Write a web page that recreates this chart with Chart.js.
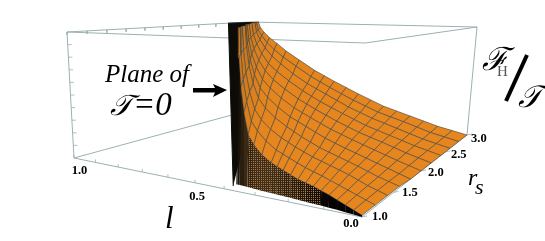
<!DOCTYPE html>
<html>
<head>
<meta charset="utf-8">
<title>F_H / T surface</title>
<script src="https://cdn.jsdelivr.net/npm/chart.js@4/dist/chart.umd.min.js"></script>
<style>
  html, body { margin: 0; padding: 0; background: #fff; }
  canvas { display: block; }
</style>
</head>
<body>
<canvas id="surfaceChart" width="545" height="241"></canvas>
<script>
// --- DATA ---
const lTicks = [1.0, 0.5, 0.0];
const rsTicks = [1.0, 1.5, 2.0, 2.5, 3.0];
const lMinorTicks = [0.1, 0.2, 0.3, 0.4, 0.6, 0.7, 0.8, 0.9];
const heightTicks = [0.1, 0.2, 0.3, 0.4, 0.5, 0.6, 0.7, 0.8, 0.9];

// surface rows: one per rs value, the l range ends where T=0
const rsRows = [1.0, 1.2, 1.4, 1.6, 1.8, 2.0, 2.2, 2.4, 2.6, 2.8, 3.0];
const lLimit = [0.36, 0.41, 0.46, 0.51, 0.57, 0.63, 0.69, 0.75, 0.81, 0.88, 0.95];
const lFractions = [0, 0.06, 0.12, 0.18, 0.24, 0.30, 0.36, 0.42, 0.48, 0.54, 0.6, 0.65, 0.7, 0.78, 0.85, 0.9, 0.94, 0.97, 0.99, 1];
const heights = [
  [0.01, 0.03, 0.05, 0.07, 0.09, 0.107, 0.125, 0.137, 0.15, 0.17, 0.19, 0.207, 0.225, 0.265, 0.32, 0.38, 0.52, 0.68, 0.87, 1.07],
  [0.01, 0.03, 0.05, 0.07, 0.09, 0.11, 0.13, 0.147, 0.165, 0.187, 0.21, 0.23, 0.25, 0.30, 0.36, 0.42, 0.55, 0.70, 0.88, 1.06],
  [0.01, 0.03, 0.05, 0.075, 0.10, 0.12, 0.14, 0.16, 0.18, 0.205, 0.23, 0.255, 0.28, 0.33, 0.39, 0.46, 0.58, 0.72, 0.885, 1.06],
  [0.01, 0.03, 0.05, 0.075, 0.10, 0.122, 0.145, 0.167, 0.19, 0.22, 0.25, 0.28, 0.31, 0.365, 0.43, 0.50, 0.61, 0.74, 0.89, 1.05],
  [0, 0.025, 0.05, 0.075, 0.10, 0.125, 0.15, 0.177, 0.205, 0.24, 0.275, 0.305, 0.335, 0.40, 0.47, 0.54, 0.645, 0.765, 0.90, 1.05],
  [0, 0.025, 0.05, 0.077, 0.105, 0.132, 0.16, 0.19, 0.22, 0.257, 0.295, 0.327, 0.36, 0.43, 0.505, 0.575, 0.675, 0.785, 0.905, 1.04],
  [0, 0.025, 0.05, 0.08, 0.11, 0.137, 0.165, 0.20, 0.235, 0.275, 0.315, 0.352, 0.39, 0.465, 0.54, 0.615, 0.705, 0.805, 0.91, 1.03],
  [0, 0.025, 0.05, 0.08, 0.11, 0.14, 0.17, 0.21, 0.25, 0.292, 0.335, 0.377, 0.42, 0.50, 0.58, 0.65, 0.74, 0.83, 0.92, 1.03],
  [0, 0.025, 0.05, 0.082, 0.115, 0.147, 0.18, 0.22, 0.26, 0.31, 0.36, 0.402, 0.445, 0.53, 0.62, 0.69, 0.77, 0.85, 0.925, 1.02],
  [0, 0.025, 0.05, 0.085, 0.12, 0.152, 0.185, 0.23, 0.275, 0.327, 0.38, 0.427, 0.475, 0.57, 0.655, 0.73, 0.80, 0.87, 0.93, 1.01],
  [0, 0.025, 0.05, 0.085, 0.12, 0.155, 0.19, 0.24, 0.29, 0.345, 0.40, 0.45, 0.50, 0.60, 0.69, 0.77, 0.83, 0.89, 0.94, 1]
];

// foot of the curtain under the rs=1 edge, one per lFractions entry
const curtainBase = [0, 0.004, 0.008, 0.012, 0.015, 0.018, 0.02, 0.022, 0.025, 0.028, 0.03, 0.031, 0.033, 0.036, 0.04, 0.042, 0.045, 0.045, 0.045, 0.045];

// the T=0 plane seen nearly edge-on, its outline as l, rs, height
const planeL = [0.37, 1.0, 0.95, 0.36, 0.34];
const planeRs = [1.0, 2.75, 3.0, 1.0, 1.0];
const planeZ = [0.03, 1, 1, 0.9, 0.3];

// --- 3D BOX ON THE CANVAS ---
// corners of the box in canvas units: l=0 rs=1, l=1 rs=1, l=1 rs=3, l=0 rs=3
const floorCorners = [[362, 217], [74, 158], [250, 110], [467, 135]];
const roofCorners = [[365, 43], [67, 32], [249, 22], [477, 27]];
const rsBend = 0.27; // eases the spacing along rs, the tick labels sit this way

function makeHomography(c) {
  const [x0, y0] = c[0], [x1, y1] = c[1], [x2, y2] = c[2], [x3, y3] = c[3];
  const dx1 = x1 - x2, dx2 = x3 - x2, sx = x0 - x1 + x2 - x3;
  const dy1 = y1 - y2, dy2 = y3 - y2, sy = y0 - y1 + y2 - y3;
  const det = dx1 * dy2 - dx2 * dy1;
  const g = (sx * dy2 - dx2 * sy) / det;
  const h = (dx1 * sy - sx * dy1) / det;
  const a = x1 - x0 + g * x1, b = x3 - x0 + h * x3;
  const d = y1 - y0 + g * y1, e = y3 - y0 + h * y3;
  return (u, v) => {
    const w = g * u + h * v + 1;
    return [(a * u + b * v + x0) / w, (d * u + e * v + y0) / w];
  };
}
const floorMap = makeHomography(floorCorners);
const roofMap = makeHomography(roofCorners);

function project(l, rs, z) {
  const t = (rs - 1) / 2;
  const v = t / (1 + rsBend * (1 - t));
  const p = floorMap(l, v), q = roofMap(l, v);
  return { x: p[0] + (q[0] - p[0]) * z, y: p[1] + (q[1] - p[1]) * z };
}

// --- PATTERNS FOR THE DENSE MESH ---
function hatch(dark, alpha) {
  const c = document.createElement('canvas');
  c.width = 2; c.height = 2;
  const g = c.getContext('2d');
  g.fillStyle = '#a8763a';
  g.fillRect(0, 0, 2, 2);
  g.fillStyle = 'rgba(' + dark + ',' + alpha + ')';
  g.fillRect(0, 0, 1, 2);
  g.fillRect(1, 0, 1, 1);
  return g.createPattern(c, 'repeat');
}

// --- DATASETS (painted back to front) ---
const painted = [];
function addShape(points, fillColor, lineColor, lineWidth) {
  painted.push({
    data: points, showLine: true, fill: 'shape', tension: 0, pointRadius: 0,
    backgroundColor: fillColor, borderColor: lineColor, borderWidth: lineWidth
  });
}
function addLines(points, lineColor, lineWidth) {
  painted.push({
    data: points, showLine: true, fill: false, tension: 0, pointRadius: 0,
    borderColor: lineColor, borderWidth: lineWidth, spanGaps: false
  });
}

const boxColor = '#9db0b2';
const gap = { x: NaN, y: NaN };

// box edges behind the surface
addLines([project(1, 1, 0), project(1, 3, 0), project(1, 3, 1), project(0, 3, 1)], boxColor, 1);
addLines([project(1, 1, 1), project(1, 3, 1)], boxColor, 1);
addLines([project(0, 3, 0), project(0, 3, 1)], boxColor, 1);
addLines([project(1, 1, 0), project(1, 1, 1), project(0, 1, 1), project(0, 3, 1)], boxColor, 1);
addLines([project(1, 1, 0), project(0, 1, 0), project(0, 3, 0)], boxColor, 1);

// small ticks along the box
const tickPts = [];
lMinorTicks.concat(lTicks).forEach(l => {
  const p = project(l, 1, 0);
  tickPts.push(p, { x: p.x, y: p.y - 3 }, gap);
});
rsRows.forEach(rs => {
  const q = project(1, rs, 1);
  tickPts.push(q, { x: q.x, y: q.y + 3 }, gap);
});
rsTicks.forEach(rs => {
  const p = project(0, rs, 0);
  tickPts.push(p, { x: p.x + 5, y: p.y - 1 }, gap);
});
heightTicks.forEach(z => {
  const p = project(1, 1, z);
  tickPts.push(p, { x: p.x + 4, y: p.y }, gap);
});
addLines(tickPts, boxColor, 0.8);

// T=0 plane
addShape(planeL.map((l, i) => project(l, planeRs[i], planeZ[i])), '#0d0b08', '#0d0b08', 1);

// surface cells, far rows first and from the spike down to l=0
const corner = (i, j) => project(lLimit[i] * lFractions[j], rsRows[i], heights[i][j]);
for (let r = rsRows.length - 2; r >= 0; r--) {
  for (let c = lFractions.length - 2; c >= 0; c--) {
    const slope = Math.min(1, (heights[r][c + 1] - heights[r][c]) / (lFractions[c + 1] - lFractions[c]) / 6);
    const k = 1 - 0.1 * slope;
    const fillColor = 'rgb(' + Math.round(233 * k) + ',' + Math.round(135 * k) + ',' + Math.round(30 * k) + ')';
    addShape([corner(r, c), corner(r, c + 1), corner(r + 1, c + 1), corner(r + 1, c), corner(r, c)],
      fillColor, 'rgba(72,74,66,0.8)', 0.8);
  }
}

// curtain below the rs=1 edge, black near l=0 and thinner towards the spike
const curtainFill = ['#050403', '#050403', '#050403', '#050403', '#0a0705',
  hatch('8,6,4', 0.95), hatch('10,8,6', 0.92), hatch('15,12,8', 0.88), hatch('20,16,12', 0.85),
  hatch('25,20,15', 0.85), hatch('30,25,20', 0.82), hatch('30,25,20', 0.8), hatch('35,28,20', 0.8),
  hatch('35,28,20', 0.8), hatch('30,24,16', 0.85), '#3a2a14', '#2a1e0e', '#1a120a', '#120c06'];
lFractions.slice(0, -1).forEach((f, c) => {
  const rowL = lLimit[0];
  addShape([
    project(rowL * f, 1, curtainBase[c]), corner(0, c), corner(0, c + 1),
    project(rowL * lFractions[c + 1], 1, curtainBase[c + 1]), project(rowL * f, 1, curtainBase[c])
  ], curtainFill[c], 'rgba(0,0,0,0)', 0);
});

// chart.js paints the first dataset last, so flip the list
painted.reverse();

// --- TEXT, ARROW AND THE BIG SLASH ---
const lLabelShift = [[5.5, 16], [2, 17], [-11, 10]];

const textPlugin = {
  id: 'labels3d',
  afterDraw(chart) {
    const { ctx, scales } = chart;
    const px = v => scales.x.getPixelForValue(v), py = v => scales.y.getPixelForValue(v);
    const put = (s, x, y, font, color, align) => {
      ctx.font = font;
      ctx.fillStyle = color || '#000';
      ctx.textAlign = align || 'left';
      ctx.textBaseline = 'alphabetic';
      ctx.fillText(s, px(x), py(y));
    };
    ctx.save();

    // tick labels hang off the axis points
    const tickFont = 'bold 12.5px "Liberation Serif"';
    lTicks.forEach((l, i) => {
      const p = project(l, 1, 0);
      put(l.toFixed(1), p.x + lLabelShift[i][0], p.y + lLabelShift[i][1], tickFont, '#000', 'center');
    });
    rsTicks.forEach((rs, i) => {
      const p = project(0, rs, 0);
      put(rs.toFixed(1), p.x + 10 - 1.5 * i, p.y + 3 + i, tickFont);
    });

    put('Plane of', 105, 82, 'italic 25px "Liberation Serif"');
    put('\u{1D4AF}', 110, 115, 'italic 29px "DejaVu Serif", "Liberation Serif"');
    put('=0', 133, 115, 'italic 33px "Liberation Serif"');
    put('l', 165, 228, 'italic 31px "Liberation Serif"');
    put('r', 468, 185, 'italic 24px "Liberation Serif"');
    put('s', 475, 194, 'italic 22px "Liberation Serif"');
    put('\u2131', 482, 70, 'italic 32px "DejaVu Serif", "Liberation Serif"');
    put('H', 497, 76, '15px "Liberation Serif"', '#555');
    put('\u{1D4AF}', 518, 107, 'italic 31px "DejaVu Serif", "Liberation Serif"');

    // slash between F_H and T
    ctx.strokeStyle = '#000';
    ctx.lineWidth = 4;
    ctx.beginPath();
    ctx.moveTo(px(527), py(55));
    ctx.lineTo(px(506), py(101));
    ctx.stroke();

    // arrow pointing at the plane
    ctx.fillStyle = '#000';
    ctx.beginPath();
    ctx.moveTo(px(193), py(88));
    ctx.lineTo(px(215), py(88));
    ctx.lineTo(px(213), py(84));
    ctx.lineTo(px(227), py(90));
    ctx.lineTo(px(213), py(97));
    ctx.lineTo(px(215), py(92.5));
    ctx.lineTo(px(193), py(92.5));
    ctx.closePath();
    ctx.fill();
    ctx.restore();
  }
};

// --- CHART ---
document.addEventListener('DOMContentLoaded', function () {
  new Chart(document.getElementById('surfaceChart').getContext('2d'), {
    type: 'scatter',
    data: { datasets: painted },
    options: {
      responsive: false,
      animation: false,
      layout: { padding: 0 },
      scales: {
        x: { type: 'linear', min: 0, max: 545, display: false },
        y: { type: 'linear', min: 0, max: 241, reverse: true, display: false }
      },
      plugins: { legend: { display: false }, tooltip: { enabled: false } }
    },
    plugins: [textPlugin]
  });
});
</script>
</body>
</html>
